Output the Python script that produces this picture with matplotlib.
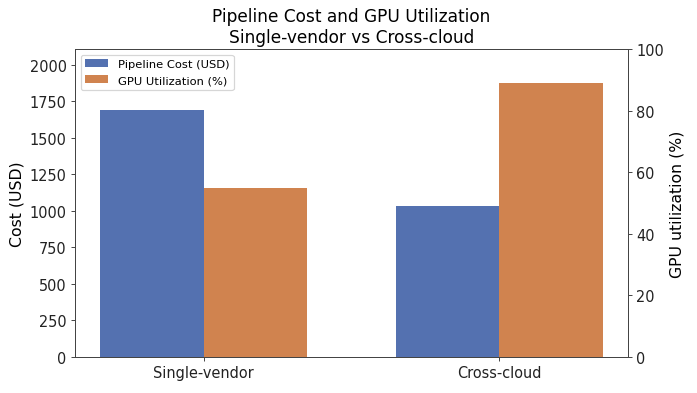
import matplotlib
matplotlib.use("Agg")
import matplotlib.pyplot as plt
import numpy as np

# data
setups = ["Single-vendor", "Cross-cloud"]
cost_usd = [1690, 1030]
gpu_util = [55, 89]

blue = "#5471B0"
orange = "#D0834F"

fig, ax = plt.subplots(figsize=(8, 4.522), dpi=87.125)
ax2 = ax.twinx()

x = np.arange(len(setups))
w = 0.35
b1 = ax.bar(x - w / 2, cost_usd, width=w, color=blue, label="Pipeline Cost (USD)")
b2 = ax2.bar(x + w / 2, gpu_util, width=w, color=orange, label="GPU Utilization (%)")

ax.set_ylim(0, 2107)
ax2.set_ylim(0, 100)
ax.set_xticks(x)
ax.set_xticklabels(setups, fontsize=12)
ax.tick_params(axis="y", labelsize=12)
ax2.tick_params(axis="y", labelsize=12)
ax.set_ylabel("Cost (USD)", fontsize=13)
ax2.set_ylabel("GPU utilization (%)", fontsize=13)
ax.set_title("Pipeline Cost and GPU Utilization\nSingle-vendor vs Cross-cloud", fontsize=14)

for a in (ax, ax2):
    for s in a.spines.values():
        s.set_color("#444444")
    a.tick_params(colors="#444444", labelcolor="#222222")

ax.legend([b1, b2], [b1.get_label(), b2.get_label()], loc="upper left", fontsize=9.5)

fig.subplots_adjust(left=75 / 697, right=628 / 697, top=1 - 50 / 394, bottom=1 - 358 / 394)
fig.savefig("out.png")
